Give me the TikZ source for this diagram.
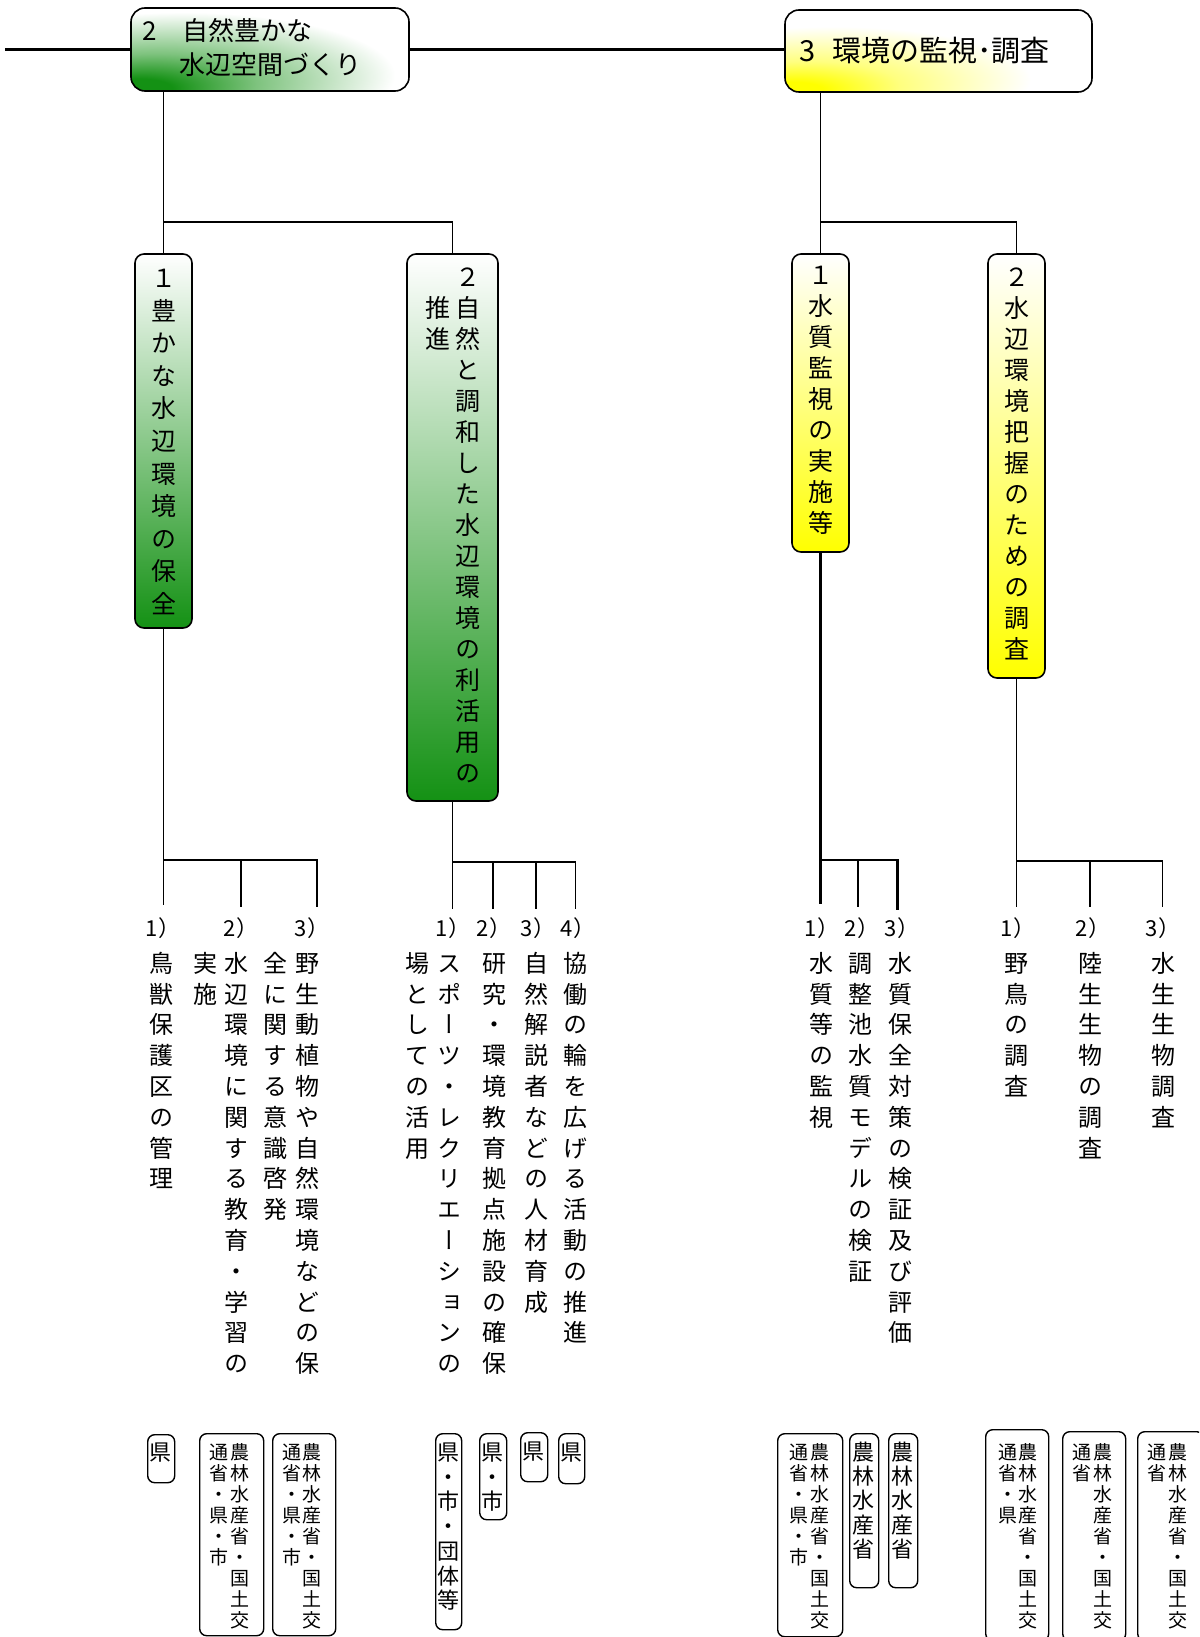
\documentclass[tikz,border=0pt]{standalone}
\usepackage{fontspec}
\setmainfont{Noto Sans CJK JP}
\newfontfamily\jpv[RawFeature={+vert}]{Noto Sans CJK JP}
\usetikzlibrary{calc}
\definecolor{G}{RGB}{20,145,20}
\definecolor{Y}{RGB}{255,255,0}
\pgfdeclareradialshading{gcorner}{\pgfpoint{-25bp}{-25bp}}{color(0bp)=(G); color(6bp)=(G); color(18bp)=(G!55!white); color(38bp)=(white); color(100bp)=(white)}
\pgfdeclareradialshading{ycorner}{\pgfpoint{-25bp}{-25bp}}{color(0bp)=(Y); color(5bp)=(Y); color(15bp)=(Y!50!white); color(32bp)=(white); color(100bp)=(white)}
\makeatletter
\newcommand\vcol[2]{\vbox{\offinterlineskip\def\vc@p{#1}\@tfor\vc@c:=#2\do{\vbox to\vc@p{\vss\hbox to 1.1em{\hss\vrule height .88em depth .12em width 0pt\vc@c\hss}\vss}}}}
\makeatother
\newcommand\fItem{\jpv\fontsize{24pt}{24pt}\selectfont}
\newcommand\fBox{\jpv\fontsize{25pt}{25pt}\selectfont}
\newcommand\fLab{\fontsize{22pt}{22pt}\selectfont}
\newcommand\fSm{\jpv\fontsize{19pt}{19pt}\selectfont}
\newcommand\fMd{\jpv\fontsize{22pt}{22pt}\selectfont}
\begin{document}
\begin{tikzpicture}[x=1pt,y=-1pt,
  conn/.style={line width=1.7pt},
  thickconn/.style={line width=2.6pt},
  topline/.style={line width=3pt},
  topbox/.style={draw, line width=1.6pt, rounded corners=14pt, inner sep=0pt, shade},
  vbx/.style={draw, line width=1.6pt, rounded corners=9pt, inner sep=0pt},
  gbx/.style={vbx, top color=white, middle color=G!35!white, bottom color=G},
  ybx/.style={vbx, top color=white, middle color=Y!40!white, bottom color=Y},
  rbx/.style={draw, line width=1.4pt, rounded corners=7pt, inner sep=0pt, fill=white, anchor=north west},
  col/.style={inner sep=0pt, anchor=north},
  lab/.style={inner sep=0pt, font=\fLab},
  ttl/.style={inner sep=0pt, anchor=west},
]
\useasboundingbox (0,0) rectangle (1199,1637);
\clip (0,0) rectangle (1199,1637);

% ---------- top boxes ----------
\node[topbox, shading=gcorner, minimum width=278pt, minimum height=83pt] (A) at (270,49.5) {};
\node[topbox, shading=ycorner, minimum width=307pt, minimum height=82pt] (B) at (938.5,51) {};
\node[ttl, font=\fontsize{26pt}{26pt}\selectfont] (A1) at (142,31) {2};
\node[ttl, font=\fontsize{26pt}{26pt}\selectfont] (A2) at (182,31) {自然豊かな};
\node[ttl, font=\fontsize{26pt}{26pt}\selectfont] (A3) at (179,65) {水辺空間づくり};
\node[ttl, font=\fontsize{29pt}{29pt}\selectfont] (B1) at (799,51) {3};
\node[ttl, font=\fontsize{29pt}{29pt}\selectfont] (B2) at (832,51) {環境の監視･調査};

% ---------- second level boxes ----------
\node[gbx, minimum width=57pt, minimum height=374pt] (C1) at (163.5,441) {};
\node[gbx, minimum width=91pt, minimum height=547pt] (C2) at (452.5,527.5) {};
\node[ybx, minimum width=57pt, minimum height=298pt] (D1) at (820.5,403) {};
\node[ybx, minimum width=57pt, minimum height=424pt] (D2) at (1016.5,466) {};
\node[col, font=\fBox] (C1t) at (163.5,261.5) {\vcol{32.6pt}{１豊かな水辺環境の保全}};
\node[col, font=\fBox] (C2t) at (468,261.5) {\vcol{31pt}{２自然と調和した水辺環境の利活用の}};
\node[col, font=\fBox] (C2u) at (438,261.5) {\vcol{31pt}{{}推進}};
\node[col, font=\fBox] (D1t) at (820.5,259.5) {\vcol{31pt}{１水質監視の実施等}};
\node[col, font=\fBox] (D2t) at (1016.5,261.5) {\vcol{31pt}{２水辺環境把握のための調査}};

% ---------- top connectors ----------
\coordinate (L0) at (5,50);
\coordinate (hA) at (0,222);
\draw[topline] (L0) -- (L0 -| A.west);
\draw[topline] (A.east) -- (A.east -| B.west);
\draw[conn] (A.south -| C1.north) -- (C1.north);
\draw[conn] (C1.north |- hA) -| (C2.north);
\draw[conn] (B.south -| D1.north) -- (D1.north);
\draw[conn] (D1.north |- hA) -| (D2.north);

% ---------- lower connectors ----------
\coordinate (e11) at (163.5,905); \coordinate (e12) at (241,907); \coordinate (e13) at (317,907);
\coordinate (hC1) at (0,860);
\draw[conn] (C1.south) -- (e11);
\draw[conn] (C1.south |- hC1) -| (e13);
\draw[conn] (e12 |- hC1) -- (e12);

\coordinate (e21) at (452.5,909); \coordinate (e22) at (493,909); \coordinate (e23) at (536,909); \coordinate (e24) at (575.5,909);
\coordinate (hC2) at (0,862);
\draw[conn] (C2.south) -- (e21);
\draw[conn] (C2.south |- hC2) -| (e24);
\draw[conn] (e22 |- hC2) -- (e22);
\draw[conn] (e23 |- hC2) -- (e23);

\coordinate (e31) at (820.5,904); \coordinate (e32) at (858,907); \coordinate (e33) at (897.5,910);
\coordinate (hD1) at (0,860);
\draw[thickconn] (D1.south) -- (e31);
\draw[thickconn] (D1.south |- hD1) -| (e33);
\draw[thickconn] (e32 |- hD1) -- (e32);

\coordinate (e41) at (1016.5,907); \coordinate (e42) at (1090,907); \coordinate (e43) at (1162.5,907);
\coordinate (hD2) at (0,861);
\draw[conn] (D2.south) -- (e41);
\draw[conn] (D2.south |- hD2) -| (e43);
\draw[conn] (e42 |- hD2) -- (e42);

% ---------- item labels ----------
\node[lab] (l11) at (163,928) {1）};
\node[lab] (l12) at (241,928) {2）};
\node[lab] (l13) at (312,928) {3）};
\node[lab] (l21) at (453,928) {1）};
\node[lab] (l22) at (494,928) {2）};
\node[lab] (l23) at (538,928) {3）};
\node[lab] (l24) at (578,928) {4）};
\node[lab] (l31) at (822,928) {1）};
\node[lab] (l32) at (862,928) {2）};
\node[lab] (l33) at (902,928) {3）};
\node[lab] (l41) at (1018,928) {1）};
\node[lab] (l42) at (1093,928) {2）};
\node[lab] (l43) at (1163,928) {3）};

% ---------- item texts ----------
\node[col, font=\fItem] (t11) at (161,947.6) {\vcol{30.8pt}{鳥獣保護区の管理}};
\node[col, font=\fItem] (t12) at (236,947.6) {\vcol{30.8pt}{水辺環境に関する教育・学習の}};
\node[col, font=\fItem] (t12b) at (205,947.6) {\vcol{30.8pt}{実施}};
\node[col, font=\fItem] (t13) at (307,947.6) {\vcol{30.8pt}{野生動植物や自然環境などの保}};
\node[col, font=\fItem] (t13b) at (275,947.6) {\vcol{30.8pt}{全に関する意識啓発}};
\node[col, font=\fItem] (t21) at (449,947.6) {\vcol{30.8pt}{スポーツ・レクリエーションの}};
\node[col, font=\fItem] (t21b) at (417,947.6) {\vcol{30.8pt}{場としての活用}};
\node[col, font=\fItem] (t22) at (494,947.6) {\vcol{30.8pt}{研究・環境教育拠点施設の確保}};
\node[col, font=\fItem] (t23) at (536,947.6) {\vcol{30.8pt}{自然解説者などの人材育成}};
\node[col, font=\fItem] (t24) at (575,947.6) {\vcol{30.8pt}{協働の輪を広げる活動の推進}};
\node[col, font=\fItem] (t31) at (821,947.6) {\vcol{30.8pt}{水質等の監視}};
\node[col, font=\fItem] (t32) at (860,947.6) {\vcol{30.8pt}{調整池水質モデルの検証}};
\node[col, font=\fItem] (t33) at (900,947.6) {\vcol{30.8pt}{水質保全対策の検証及び評価}};
\node[col, font=\fItem] (t41) at (1016,947.6) {\vcol{30.8pt}{野鳥の調査}};
\node[col, font=\fItem] (t42) at (1090,947.6) {\vcol{30.8pt}{陸生生物の調査}};
\node[col, font=\fItem] (t43) at (1163,947.6) {\vcol{30.8pt}{水生生物調査}};

% ---------- responsibility boxes ----------
\node[rbx, minimum width=27pt, minimum height=48pt] (r11) at (147,1434) {};
\node[col, font=\fMd] (r11t) at (160.5,1439.8) {\vcol{24.5pt}{県}};
\node[rbx, minimum width=64pt, minimum height=202pt] (r12) at (199,1433) {};
\node[col, font=\fSm] (r12t) at (240,1441.5) {\vcol{21pt}{農林水産省・国土交}};
\node[col, font=\fSm] (r12u) at (219,1441.5) {\vcol{21pt}{通省・県・市}};
\node[rbx, minimum width=63pt, minimum height=202pt] (r13) at (272,1433) {};
\node[col, font=\fSm] (r13t) at (312,1441.5) {\vcol{21pt}{農林水産省・国土交}};
\node[col, font=\fSm] (r13u) at (292,1441.5) {\vcol{21pt}{通省・県・市}};

\node[rbx, minimum width=26pt, minimum height=196pt] (r21) at (435,1433) {};
\node[col, font=\fMd] (r21t) at (448,1439.6) {\vcol{24.7pt}{県・市・団体等}};
\node[rbx, minimum width=27pt, minimum height=86pt] (r22) at (479,1433) {};
\node[col, font=\fMd] (r22t) at (492.5,1439.6) {\vcol{24.7pt}{県・市}};
\node[rbx, minimum width=27pt, minimum height=49pt] (r23) at (520,1432) {};
\node[col, font=\fMd] (r23t) at (533.5,1438.6) {\vcol{24.7pt}{県}};
\node[rbx, minimum width=26pt, minimum height=50pt] (r24) at (558,1433) {};
\node[col, font=\fMd] (r24t) at (571,1439.6) {\vcol{24.7pt}{県}};

\node[rbx, minimum width=65pt, minimum height=203pt] (r31) at (777,1433) {};
\node[col, font=\fSm] (r31t) at (820,1441.5) {\vcol{21pt}{農林水産省・国土交}};
\node[col, font=\fSm] (r31u) at (799,1441.5) {\vcol{21pt}{通省・県・市}};
\node[rbx, minimum width=29pt, minimum height=154pt] (r32) at (849,1433) {};
\node[col, font=\fMd] (r32t) at (863.5,1439.9) {\vcol{24.2pt}{農林水産省}};
\node[rbx, minimum width=29pt, minimum height=154pt] (r33) at (888,1433) {};
\node[col, font=\fMd] (r33t) at (902.5,1439.9) {\vcol{24.2pt}{農林水産省}};

\node[rbx, minimum width=63pt, minimum height=211pt] (r41) at (985,1429) {};
\node[col, font=\fSm] (r41t) at (1028,1441.5) {\vcol{21pt}{農林水産省・国土交}};
\node[col, font=\fSm] (r41u) at (1008,1441.5) {\vcol{21pt}{通省・県}};
\node[rbx, minimum width=63pt, minimum height=209pt] (r42) at (1062,1431) {};
\node[col, font=\fSm] (r42t) at (1103,1441.5) {\vcol{21pt}{農林水産省・国土交}};
\node[col, font=\fSm] (r42u) at (1082,1441.5) {\vcol{21pt}{通省}};
\node[rbx, minimum width=66pt, minimum height=209pt] (r43) at (1137,1431) {};
\node[col, font=\fSm] (r43t) at (1178,1441.5) {\vcol{21pt}{農林水産省・国土交}};
\node[col, font=\fSm] (r43u) at (1157,1441.5) {\vcol{21pt}{通省}};
\end{tikzpicture}
\end{document}
